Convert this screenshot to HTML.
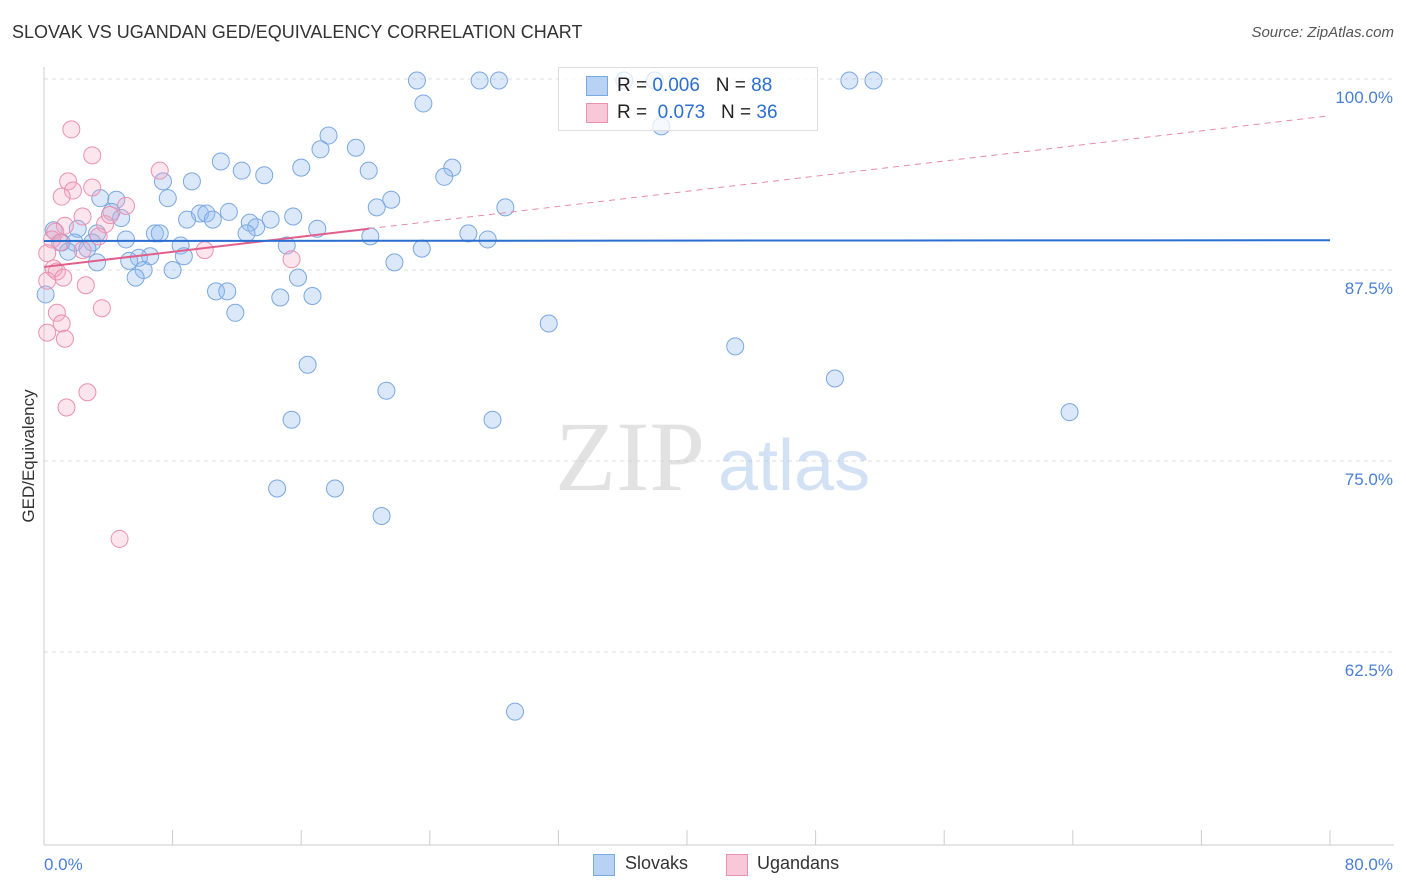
<!DOCTYPE html>
<html><head><meta charset="utf-8"><style>
body{margin:0;background:#fff;font-family:"Liberation Sans",sans-serif}
#c{position:relative;width:1406px;height:892px}
.t{position:absolute;white-space:nowrap}
</style></head><body>
<div id="c">
<div class="t" style="left:12px;top:22px;font-size:18px;color:#333">SLOVAK VS UGANDAN GED/EQUIVALENCY CORRELATION CHART</div>
<div class="t" style="right:12px;top:24px;font-size:15px;color:#555;font-style:italic">Source: ZipAtlas.com</div>
<svg id="s" width="1406" height="892" style="position:absolute;left:0;top:0"></svg>
</div>
<script>
const xTickVals=[0,8,16,24,32,40,48,56,64,72,80];
const yTickVals=[100,87.5,75,62.5];
const yTickLabels=["100.0%","87.5%","75.0%","62.5%"];
const slovakX=[23.2,27.1,28.3,36.1,38.0,50.1,51.6,23.6,38.4,17.7,17.2,19.4,11.0,16.0,25.4,20.2,12.3,13.7,24.9,7.4,9.2,7.7,3.5,4.5,21.6,20.7,28.7,4.2,11.5,15.5,9.7,10.1,8.9,10.5,14.1,12.8,4.8,13.2,17.0,0.6,2.1,12.6,6.9,7.2,26.4,3.3,20.3,5.1,27.6,1.1,1.9,3.0,15.1,8.5,2.7,1.5,23.5,6.6,8.7,5.9,5.3,3.3,21.8,6.2,8.0,5.7,15.8,10.7,11.4,14.7,16.7,11.9,31.4,43.0,16.4,49.2,21.3,63.8,15.4,27.9,14.5,18.1,21.0,29.3,0.1];
const slovakY=[99.9,99.9,99.9,99.9,99.9,99.9,99.9,98.4,96.9,96.3,95.4,95.5,94.6,94.2,94.2,94.0,94.0,93.7,93.6,93.3,93.3,92.2,92.2,92.1,92.1,91.6,91.6,91.3,91.3,91.0,91.2,91.2,90.8,90.8,90.8,90.6,90.9,90.3,90.2,90.1,90.2,89.9,89.9,89.9,89.9,89.9,89.7,89.5,89.5,89.3,89.3,89.3,89.1,89.1,88.9,88.7,88.9,88.4,88.4,88.3,88.1,88.0,88.0,87.5,87.5,87.0,87.0,86.1,86.1,85.7,85.8,84.7,84.0,82.5,81.3,80.4,79.6,78.2,77.7,77.7,73.2,73.2,71.4,58.6,85.9];
const ugandanX=[1.7,3.0,7.2,1.5,3.0,1.8,1.1,5.1,2.4,1.3,3.8,0.7,3.4,0.5,1.0,2.4,10.0,0.2,15.4,0.6,0.8,1.2,0.2,2.6,3.6,0.8,1.1,0.2,1.3,2.7,1.4,4.7,4.1];
const ugandanY=[96.7,95.0,94.0,93.3,92.9,92.7,92.3,91.7,91.0,90.4,90.5,90.0,89.7,89.5,89.3,88.8,88.8,88.6,88.2,87.6,87.4,87.0,86.8,86.5,85.0,84.7,84.0,83.4,83.0,79.5,78.5,69.9,91.1];
const blueFit=[89.4,89.45];   // y at x=0 and x=80
const pinkFit=[87.7,97.6];    // y at x=0 and x=80
const pinkSolidEnd=20.2;

const NS="http://www.w3.org/2000/svg",svg=document.getElementById('s');
const X=v=>44+v/80*1286, Y=v=>79+(100-v)/12.5*191;
function el(t,a){const e=document.createElementNS(NS,t);for(const k in a)e.setAttribute(k,a[k]);svg.appendChild(e);return e;}
yTickVals.forEach((v,i)=>{
 const g=el('line',{x1:44,x2:1394,y1:Y(v),y2:Y(v),stroke:'#ddd','stroke-dasharray':'4,4'});
 
 const t=el('text',{x:1393,y:Y(v)+24,'text-anchor':'end','font-size':17,fill:'#4a7fd4'});t.textContent=yTickLabels[i];
 
});
let a=el('line',{x1:44,x2:44,y1:67,y2:845,stroke:'#ccc'});
a=el('line',{x1:44,x2:1394,y1:845,y2:845,stroke:'#ccc'});
xTickVals.forEach(v=>{const t=el('line',{x1:X(v),x2:X(v),y1:830,y2:845,stroke:'#ccc'});});
let t=el('text',{x:44,y:870,'font-size':17,fill:'#4a7fd4'});t.textContent='0.0%';
t=el('text',{x:1393,y:870,'text-anchor':'end','font-size':17,fill:'#4a7fd4'});t.textContent='80.0%';
t=el('text',{x:34,y:456,'text-anchor':'middle','font-size':17,fill:'#333',transform:'rotate(-90 34 456)'});t.textContent='GED/Equivalency';
t=el('text',{x:555,y:490,'font-size':100,fill:'#ccc','font-family':'Liberation Serif',opacity:0.55});t.textContent='ZIP';
t=el('text',{x:718,y:490,'font-size':72,fill:'#a8c4ec',opacity:0.5});t.textContent='atlas';
slovakX.forEach((x,i)=>{const c=el('circle',{cx:X(x),cy:Y(slovakY[i]),r:8.5,fill:'rgba(150,190,240,0.35)',stroke:'#7aa8e0','stroke-width':1});});
ugandanX.forEach((x,i)=>{const c=el('circle',{cx:X(x),cy:Y(ugandanY[i]),r:8.5,fill:'rgba(245,170,195,0.3)',stroke:'#ea90b0','stroke-width':1});});
const pf=x=>pinkFit[0]+(pinkFit[1]-pinkFit[0])*x/80;
let l=el('line',{x1:X(pinkSolidEnd),y1:Y(pf(pinkSolidEnd)),x2:X(80),y2:Y(pf(80)),stroke:'#e88aa8','stroke-width':1,'stroke-dasharray':'6,5'});
l=el('line',{x1:X(0),y1:Y(pf(0)),x2:X(pinkSolidEnd),y2:Y(pf(pinkSolidEnd)),stroke:'#e0608a','stroke-width':2});
l=el('line',{x1:X(0),y1:Y(blueFit[0]),x2:X(80),y2:Y(blueFit[1]),stroke:'#2a6fd0','stroke-width':2});
</script>
<div class="t" style="left:558px;top:67px;width:258px;height:62px;border:1px solid #ddd;background:rgba(255,255,255,0.75)">
 <div class="t" style="left:27px;top:8px;width:20px;height:18px;background:#b8d2f4;border:1px solid #7aa8e0"></div>
 <div class="t" style="left:58px;top:7px;font-size:19px;color:#222">R = <span style="color:#2a6fd0">0.006</span>&nbsp;&nbsp;&nbsp;N = <span style="color:#2a6fd0">88</span></div>
 <div class="t" style="left:27px;top:35px;width:20px;height:18px;background:#f8c8d8;border:1px solid #ea90b0"></div>
 <div class="t" style="left:58px;top:34px;font-size:19px;color:#222">R = &nbsp;<span style="color:#2a6fd0">0.073</span>&nbsp;&nbsp;&nbsp;N = <span style="color:#2a6fd0">36</span></div>
</div>
<div class="t" style="left:593px;top:854px;width:20px;height:20px;background:#b8d2f4;border:1px solid #7aa8e0"></div>
<div class="t" style="left:625px;top:853px;font-size:18px;color:#333">Slovaks</div>
<div class="t" style="left:726px;top:854px;width:20px;height:20px;background:#f8c8d8;border:1px solid #ea90b0"></div>
<div class="t" style="left:757px;top:853px;font-size:18px;color:#333">Ugandans</div>
</body></html>
